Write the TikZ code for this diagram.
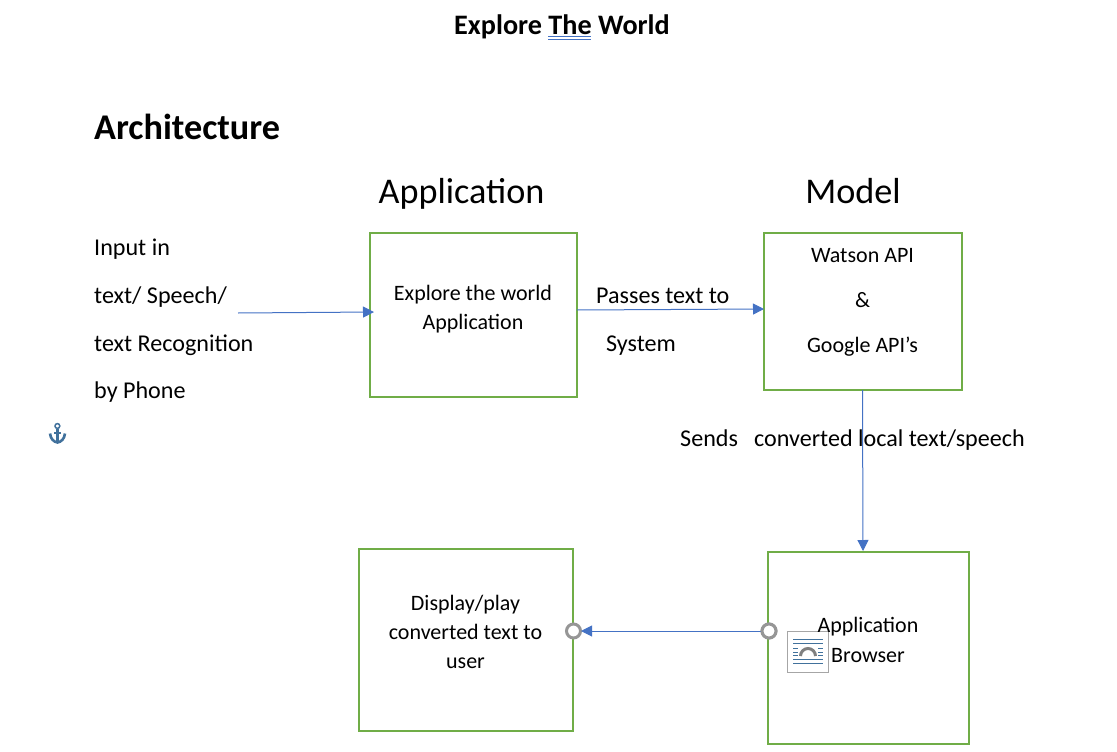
\documentclass[tikz,border=0pt]{standalone}
\usepackage{fontspec}
\setmainfont{Carlito}
\usetikzlibrary{arrows.meta}
\definecolor{boxgreen}{HTML}{70AD47}
\definecolor{linkblue}{HTML}{4472C4}
\definecolor{anchorblue}{HTML}{41719C}
\definecolor{handlegrey}{HTML}{969696}
\tikzset{
  x=1pt,y=-1pt,
  boxnode/.style={draw=boxgreen,line width=1.8pt,outer sep=0pt,inner sep=0pt,anchor=north west},
  boxtext/.style={inner sep=0pt,align=center,font=\fontsize{22}{29.3}\selectfont},
  label/.style={inner sep=0pt,anchor=base west,font=\fontsize{24.1}{28}\selectfont},
  head/.style={inner sep=0pt,anchor=base,font=\fontsize{36.2}{40}\selectfont},
  link/.style={draw=linkblue,line width=1pt,-{Triangle[length=11pt,width=11pt]}},
  handle/.style={circle,draw=handlegrey,fill=white,line width=3pt,minimum size=14pt,inner sep=0pt},
}
\begin{document}
\begin{tikzpicture}
\useasboundingbox (0,0) rectangle (1117,752);
\node[head,font=\fontsize{28.2}{32}\selectfont\bfseries] (title) at (562,35) {Explore The World};
\node[label,font=\fontsize{36.2}{40}\selectfont\bfseries] (arch) at (94,139.5) {Architecture};
\node[head] (happ) at (461.5,203.5) {Application};
\node[head] (hmod) at (853,203.5) {Model};
\coordinate (ula) at (548,36.5);\coordinate (ulb) at (591,36.5);
\coordinate (ulc) at (548,39);\coordinate (uld) at (591,39);
\draw[linkblue,line width=0.8pt] (ula) -- (ulb);
\draw[linkblue,line width=0.8pt] (ulc) -- (uld);

\node[label] (i1) at (94,255.5) {Input in};
\node[label] (i2) at (94,303.5) {text/ Speech/};
\node[label] (i3) at (94,351.5) {text Recognition};
\node[label] (i4) at (94,398.5) {by Phone};
\node[label] (p1) at (596,303.5) {Passes text to};
\node[label] (p2) at (606,351.5) {System};
\node[label] (s1) at (680,446.5) {Sends};
\node[label] (s2) at (754,446.5) {converted local text/speech};

\node[boxnode,minimum width=207pt,minimum height=164pt] (app) at (370,233) {};
\node[boxnode,minimum width=198pt,minimum height=157pt] (model) at (764,233) {};
\node[boxnode,minimum width=201pt,minimum height=192pt] (browser) at (768,552) {};
\node[boxnode,minimum width=214pt,minimum height=182pt] (display) at (359,549) {};

\node[boxtext] (apptext) at (473,309) {Explore the world\\Application};
\node[boxtext,font=\fontsize{22}{45}\selectfont] (modeltext) at (862.5,302) {Watson API\\\&\\Google API’s};
\node[boxtext] (disptext) at (465.5,632) {Display/play\\converted text to\\user};

\coordinate (start) at (238,313);
\draw[link] (start) -- ([xshift=4pt,yshift=3pt]app.west);
\draw[link] ([yshift=5pt]app.east) -- ([yshift=2.5pt]model.west);
\draw[link] ([xshift=-0.5pt]model.south) -- ([xshift=-5.5pt,yshift=1pt]browser.north);

\node[handle] (hb) at (769,631) {};
\node[handle] (hd) at (573.5,631) {};
\draw[link] (hb) -- ([xshift=-1pt]hd.east);
\node[handle] at (hb) {};

% layout-options icon
\node[draw=black!35,fill=white,line width=0.8pt,minimum width=41pt,minimum height=41pt,inner sep=0pt,outer sep=0pt,anchor=north west] (icon) at (787.5,631.5) {};
\foreach \y in {639.5,643,659.5,663}{
  \draw[anchorblue,line width=0.8pt] (793,\y) -- (823,\y);
}
\foreach \y in {648,652,655.5}{
  \draw[anchorblue,line width=0.8pt] (793,\y) -- (798,\y) (818,\y) -- (823,\y);
}
\draw[black!50,line width=3pt] (800.5,656) arc[start angle=180,end angle=360,radius=7.5];
\node[boxtext] (btext) at (868,640) {Application\\Browser};

% anchor icon
\begin{scope}[anchorblue]
\draw[line width=1.5pt] (57.4,426) circle[radius=2.4];
\draw[line width=2.6pt] (57.4,428.5) -- (57.4,442);
\draw[line width=1.8pt] (54,433) -- (61,433);
\draw[line width=2.6pt] (50,433.5) .. controls (50.5,439) and (54,442) .. (57.4,442.5) .. controls (61,442) and (64.5,439) .. (65,433.5);
\end{scope}
\end{tikzpicture}
\end{document}
